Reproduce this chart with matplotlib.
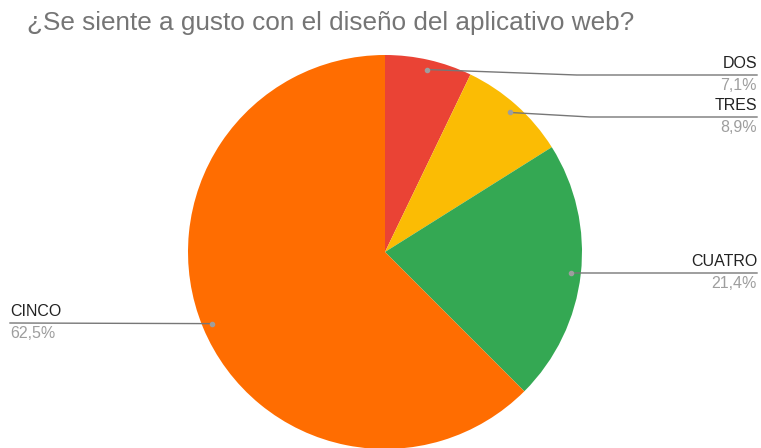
import matplotlib.pyplot as plt
import numpy as np

# survey answers
categorias = ['DOS', 'TRES', 'CUATRO', 'CINCO']
respuestas = [4, 5, 12, 35]
colores = ['#EA4335', '#FBBC04', '#34A853', '#FF6D01']

W, H = 761, 448
plt.rcParams['font.family'] = ['Liberation Sans', 'DejaVu Sans']

fig = plt.figure(figsize=(W / 100, H / 100), dpi=100)
ax = fig.add_axes([0, 0, 1, 1])

cx, cy, r = 385, H - 252, 197
wedges, _ = ax.pie(respuestas, colors=colores, startangle=90, counterclock=False,
                   center=(cx, cy), radius=r, wedgeprops=dict(linewidth=0))
ax.set_xlim(0, W)
ax.set_ylim(0, H)
ax.set_aspect('auto')
ax.axis('off')

total = sum(respuestas)
# label row (pixel y of the leader line) and which side the label sits on
filas = [75, 117, 273, 323]
lados = ['right', 'right', 'right', 'left']

for w, nombre, n, fila, lado in zip(wedges, categorias, respuestas, filas, lados):
    ang = np.deg2rad((w.theta1 + w.theta2) / 2)
    px = cx + 0.95 * r * np.cos(ang)
    py = cy + 0.95 * r * np.sin(ang)
    ly = H - fila
    pct = f'{100 * n / total:.1f}%'.replace('.', ',')
    ax.plot(px, py, 'o', ms=3, color='#9e9e9e', zorder=5)
    if lado == 'right':
        codo = max(px + 10, min(px + 150, 590))
        ax.plot([px, codo, 757], [py, ly, ly], color='#777777', lw=1, zorder=4)
        ax.text(757, ly + 4, nombre, ha='right', va='bottom', fontsize=11.5, color='#222222')
        ax.text(757, ly - 3, pct, ha='right', va='top', fontsize=11.5, color='#9e9e9e')
    else:
        ax.plot([10, px], [ly, py], color='#777777', lw=1, zorder=4)
        ax.text(10, ly + 4, nombre, ha='left', va='bottom', fontsize=11.5, color='#222222')
        ax.text(10, ly - 3, pct, ha='left', va='top', fontsize=11.5, color='#9e9e9e')

ax.text(27, H - 23, '¿Se siente a gusto con el diseño del aplicativo web?',
        ha='left', va='center', fontsize=18.8, color='#757575')

fig.savefig('out.png', dpi=100)
